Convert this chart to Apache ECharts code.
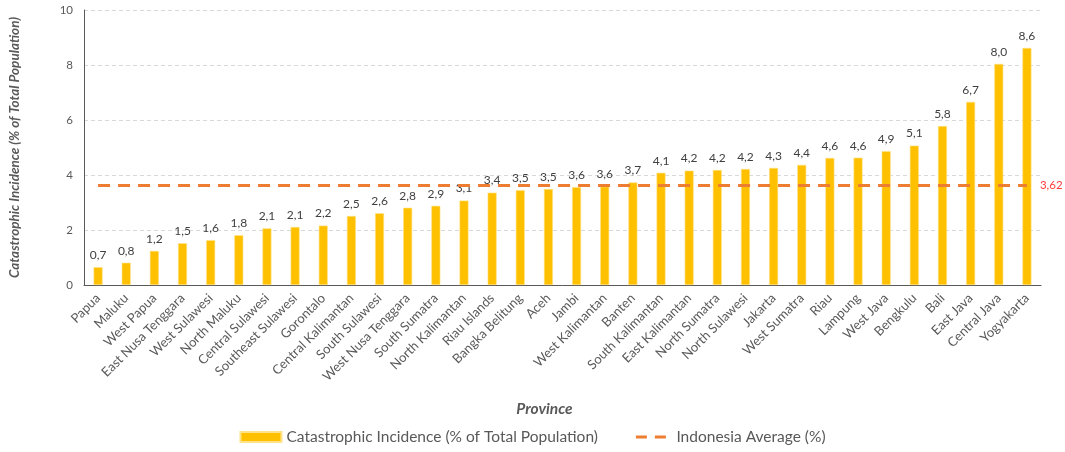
<!DOCTYPE html>
<html><head><meta charset="utf-8">
<script src="https://cdn.jsdelivr.net/npm/echarts@6/dist/echarts.min.js"></script>
<style>html,body{margin:0;padding:0;background:#fff}#c{width:1065px;height:452px}</style>
</head><body><div id="c"></div>
<script>
const provinces = ["Papua","Maluku","West Papua","East Nusa Tenggara","West Sulawesi","North Maluku","Central Sulawesi","Southeast Sulawesi","Gorontalo","Central Kalimantan","South Sulawesi","West Nusa Tenggara","South Sumatra","North Kalimantan","Riau Islands","Bangka Belitung","Aceh","Jambi","West Kalimantan","Banten","South Kalimantan","East Kalimantan","North Sumatra","North Sulawesi","Jakarta","West Sumatra","Riau","Lampung","West Java","Bengkulu","Bali","East Java","Central Java","Yogyakarta"];
const incidence = [0.65,0.81,1.24,1.52,1.63,1.81,2.06,2.11,2.16,2.51,2.61,2.81,2.88,3.07,3.36,3.45,3.49,3.56,3.58,3.73,4.08,4.16,4.18,4.22,4.26,4.37,4.62,4.63,4.87,5.07,5.78,6.66,8.04,8.62];
const nationalAverage = 3.62;
const yTicks = [0,2,4,6,8,10];

const avgSeries = provinces.map(() => nationalAverage);
const fmt = v => v.toFixed(1).replace('.', ',');
const FONT = 'Lato';
const GREY = '#595959';

const chart = echarts.init(document.getElementById('c'));
chart.setOption({
  animation: false,
  textStyle: { fontFamily: FONT },
  grid: { left: 80, right: 24, top: 10, bottom: 167 },
  legend: {
    bottom: 2, left: 'center', itemGap: 38, itemWidth: 41, itemHeight: 10,
    textStyle: { fontFamily: FONT, fontSize: 15.5, color: GREY },
    data: [
      { name: 'Catastrophic Incidence (% of Total Population)', icon: 'rect' },
      { name: 'Indonesia Average (%)',
        icon: 'path://M0,-3.5h0.01v0.01h-0.01z M0,0h11v3h-11z M19,0h11v3h-11z M29.99,6.5h0.01v0.01h-0.01z',
        itemStyle: { color: '#ED7D31' } }
    ]
  },
  xAxis: {
    type: 'category', data: provinces,
    name: 'Province', nameLocation: 'middle', nameGap: 116,
    nameTextStyle: { fontFamily: FONT, fontSize: 15.5, fontWeight: 'bold', fontStyle: 'italic', color: GREY, padding: [0, 36, 0, 0] },
    axisLine: { lineStyle: { color: '#595959', width: 1 } },
    axisTick: { alignWithLabel: true, inside: true, length: 3, lineStyle: { color: '#595959' } },
    axisLabel: { rotate: 45, interval: 0, fontSize: 13, color: GREY, margin: 11, fontFamily: FONT }
  },
  yAxis: {
    type: 'value', min: 0, max: 10, interval: 2,
    name: 'Catastrophic Incidence (% of Total Population)', nameLocation: 'middle', nameGap: 62,
    nameTextStyle: { fontFamily: FONT, fontSize: 13.5, fontWeight: 'bold', fontStyle: 'italic', color: GREY },
    axisLine: { show: true, lineStyle: { color: '#595959' } },
    axisTick: { show: false },
    axisLabel: { fontSize: 11.5, color: GREY, margin: 11, fontFamily: FONT,
      formatter: v => yTicks.includes(v) ? String(v) : '' },
    splitLine: { lineStyle: { color: '#D9D9D9', type: [4, 3] } }
  },
  series: [
    {
      name: 'Catastrophic Incidence (% of Total Population)', type: 'bar', data: incidence,
      barWidth: 9,
      itemStyle: { color: '#FFC000', borderColor: '#FFE28A', borderWidth: 0.6 },
      label: { show: true, position: 'top', distance: 6, fontSize: 12, color: '#404040', fontFamily: FONT,
        formatter: p => fmt(p.value) },
      z: 2
    },
    {
      name: 'Indonesia Average (%)', type: 'line', data: avgSeries,
      symbol: 'none', showSymbol: false,
      itemStyle: { color: '#ED7D31' },
      lineStyle: { color: '#ED7D31', width: 3, type: [12, 8] },
      endLabel: { show: true, formatter: () => String(nationalAverage).replace('.', ','), color: '#FF3B3B', fontSize: 11.5, distance: 13, fontFamily: FONT },
      z: 3
    }
  ]
});
</script></body></html>
